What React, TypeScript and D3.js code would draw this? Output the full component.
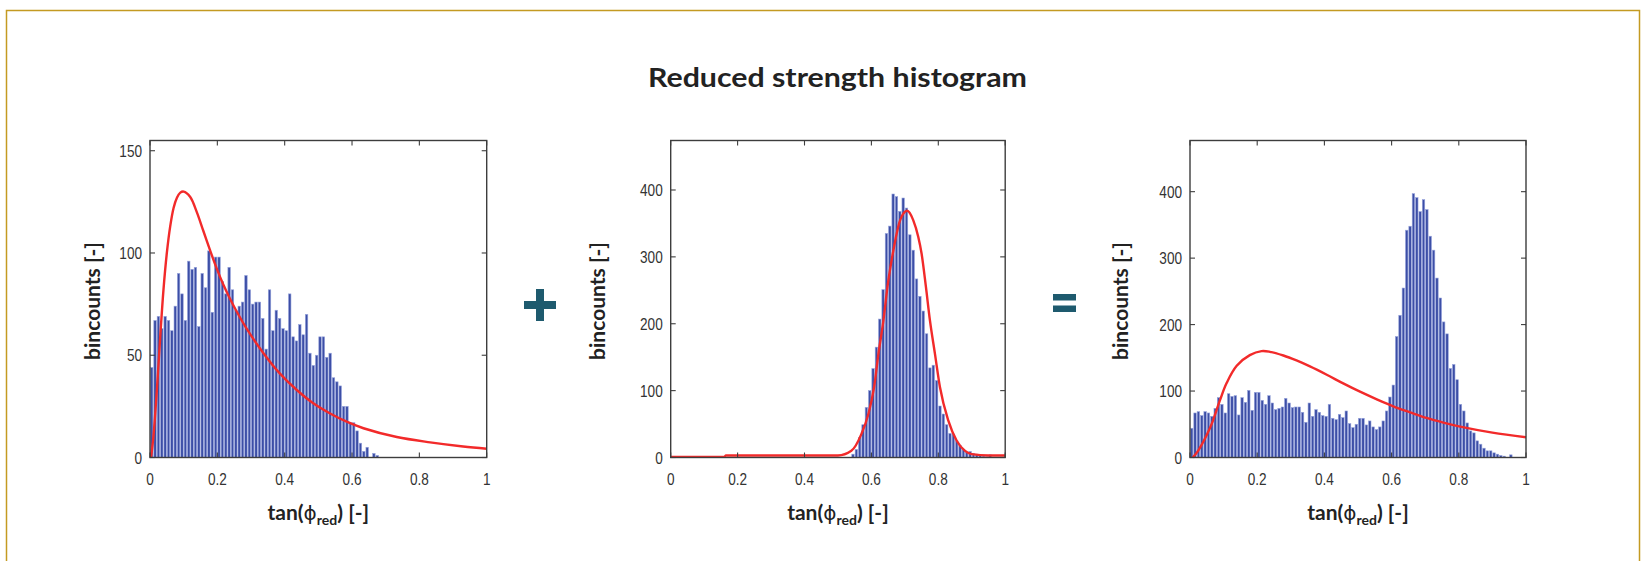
import React from "react";
import * as d3 from "d3";

// ---------------- data ----------------
const TITLE = "Reduced strength histogram";
const Y_LABEL = "bincounts [-]";
const BIN_WIDTH = 0.01;

const X_TICKS = [0, 0.2, 0.4, 0.6, 0.8, 1];
const X_TICK_LABELS = ["0", "0.2", "0.4", "0.6", "0.8", "1"];
const Y_TICKS_LEFT = [0, 50, 100, 150];
const Y_TICKS_MID = [0, 100, 200, 300, 400];
const Y_TICKS_RIGHT = [0, 100, 200, 300, 400];

// panel 1 : bin counts (100 bins of 0.01)
const COUNTS_LEFT = [
  44, 67, 69, 63, 69, 67, 62, 74, 90, 80,
  67, 96, 92, 93, 64, 90, 83, 101, 71, 98,
  98, 86, 80, 93, 82, 72, 74, 76, 89, 82,
  75, 76, 76, 68, 53, 82, 62, 72, 68, 63,
  62, 80, 59, 57, 65, 60, 70, 51, 45, 50,
  59, 59, 49, 51, 39, 37, 35, 25, 25, 17,
  17, 13, 7, 3, 5, 0, 2, 1, 0, 0,
  0, 0, 0, 0, 0, 0, 0, 0, 0, 0,
  0, 0, 0, 0, 0, 0, 0, 0, 0, 0,
  0, 0, 0, 0, 0, 0, 0, 0, 0, 0,
];

// panel 2 : bin counts
const COUNTS_MID = [
  0, 0, 0, 0, 0, 0, 0, 0, 0, 0,
  0, 0, 0, 0, 0, 0, 0, 0, 0, 0,
  0, 0, 0, 0, 0, 0, 0, 0, 0, 0,
  0, 0, 0, 0, 0, 0, 0, 0, 0, 0,
  0, 0, 0, 0, 0, 0, 0, 0, 0, 0,
  0, 0, 0, 0, 5, 12, 30, 49, 75, 100,
  133, 165, 207, 251, 335, 346, 394, 390, 368, 388,
  373, 333, 310, 267, 241, 219, 185, 134, 138, 115,
  77, 65, 49, 36, 35, 25, 18, 12, 8, 9,
  6, 5, 3, 2, 1, 4, 0, 0, 0, 0,
];

// panel 3 : bin counts
const COUNTS_RIGHT = [
  44, 67, 69, 63, 69, 67, 62, 74, 90, 80,
  67, 96, 92, 93, 64, 90, 83, 101, 71, 98,
  98, 86, 80, 93, 82, 72, 74, 76, 89, 82,
  75, 76, 76, 68, 53, 82, 62, 72, 68, 63,
  62, 80, 59, 57, 65, 60, 70, 51, 45, 50,
  59, 59, 49, 55, 46, 42, 46, 55, 70, 91,
  109, 182, 214, 255, 342, 348, 397, 391, 370, 388,
  373, 333, 312, 270, 240, 204, 186, 134, 140, 117,
  80, 70, 52, 40, 37, 25, 20, 14, 10, 10,
  7, 5, 3, 2, 0, 4, 0, 0, 0, 0,
];

// fitted curves, points
const FIT_LEFT_X = [0.003, 0.01, 0.02, 0.03, 0.04, 0.05, 0.06, 0.07, 0.08, 0.09, 0.1, 0.119, 0.139, 0.158, 0.178, 0.198, 0.218, 0.238, 0.257, 0.287, 0.337, 0.386, 0.436, 0.485, 0.535, 0.584, 0.634, 0.733, 0.832, 0.93, 1.0];
const FIT_LEFT_Y = [0, 10, 32, 58, 82, 100, 113, 122, 127, 129.5, 130, 127.5, 120, 111, 101.5, 92.5, 84.5, 77.5, 71.5, 63, 51, 41, 33, 26.5, 21.5, 17.5, 14.3, 10, 7.4, 5.4, 4.3];

const FIT_MID_X = [0, 0.16, 0.165, 0.5, 0.54, 0.57, 0.591, 0.608, 0.621, 0.636, 0.648, 0.664, 0.686, 0.707, 0.725, 0.74, 0.75, 0.763, 0.775, 0.79, 0.805, 0.83, 0.855, 0.88, 0.9, 0.95, 1.0];
const FIT_MID_Y = [1, 1, 3, 3, 10, 35, 65, 105, 155, 205, 255, 305, 355, 369, 355, 330, 305, 255, 205, 155, 105, 55, 25, 10, 5, 3, 3];

const FIT_RIGHT_X = [0.008, 0.024, 0.06, 0.089, 0.109, 0.139, 0.178, 0.213, 0.238, 0.278, 0.317, 0.357, 0.407, 0.456, 0.506, 0.556, 0.605, 0.655, 0.704, 0.754, 0.804, 0.9, 1.0];
const FIT_RIGHT_Y = [0, 10, 45, 86, 112, 138, 154, 160, 159, 153.5, 146, 137, 124.5, 111.5, 99, 87.5, 77, 68, 59.5, 52.5, 46.5, 37.5, 30.5];

// ---------------- layout ----------------
const W = 1647;
const H = 561;
const TOP = 140.5;
const BOTTOM = 457.5;

const PANELS = [
  { left: 150, right: 486.7, yMax: 155, counts: COUNTS_LEFT, fx: FIT_LEFT_X, fy: FIT_LEFT_Y, yTicks: Y_TICKS_LEFT, labelX: 93, smooth: true },
  { left: 670.7, right: 1005.2, yMax: 474, counts: COUNTS_MID, fx: FIT_MID_X, fy: FIT_MID_Y, yTicks: Y_TICKS_MID, labelX: 598, smooth: false },
  { left: 1190, right: 1526, yMax: 477, counts: COUNTS_RIGHT, fx: FIT_RIGHT_X, fy: FIT_RIGHT_Y, yTicks: Y_TICKS_RIGHT, labelX: 1121, smooth: true },
];

const TICK_FONT = "'Liberation Sans', Arial, sans-serif";
const LABEL_FONT = "Lato, 'Open Sans', sans-serif";
const TEXT_COLOR = "#222";
const BAR_FILL = "#3c4ea6";
const BAR_EDGE = "#98a5dc";
const FIT_COLOR = "#f22a2a";
const AXIS_COLOR = "#3d3d3d";
const SIGN_COLOR = "#1e5a6e";
const BORDER_COLOR = "#c49a22";

function TickLabel({ x, y, text, anchor }: { x: number; y: number; text: string; anchor: string }) {
  return (
    <g transform={`translate(${x},${y}) scale(0.8,1)`}>
      <text x={0} y={0} fontFamily={TICK_FONT} fontSize={17} fill="#333" textAnchor={anchor}>
        {text}
      </text>
    </g>
  );
}

function Panel({ p }: { p: any }) {
  const x = d3.scaleLinear().domain([0, 1]).range([p.left, p.right]);
  const y = d3.scaleLinear().domain([0, p.yMax]).range([BOTTOM, TOP]);
  const bw = x(BIN_WIDTH) - x(0);
  const pts: [number, number][] = p.fx.map((v: number, i: number) => [v, p.fy[i]]);
  const line = d3
    .line<[number, number]>()
    .x((d) => x(d[0]))
    .y((d) => y(d[1]))
    .curve(p.smooth ? d3.curveCatmullRom.alpha(0.5) : d3.curveMonotoneX);
  const tl = 5;
  const cx = (p.left + p.right) / 2;
  return (
    <g>
      {p.counts.map((v: number, i: number) =>
        v > 0 ? (
          <rect
            key={i}
            x={x(i * BIN_WIDTH) + 0.45}
            y={y(v)}
            width={bw - 0.9}
            height={y(0) - y(v)}
            fill={BAR_FILL}
            stroke={BAR_EDGE}
            strokeWidth={0.6}
          />
        ) : null
      )}
      <path d={line(pts) || ""} fill="none" stroke={FIT_COLOR} strokeWidth={2.4} strokeLinejoin="round" />
      <rect x={p.left} y={TOP} width={p.right - p.left} height={BOTTOM - TOP} fill="none" stroke={AXIS_COLOR} strokeWidth={1.4} />
      {X_TICKS.map((t, i) => (
        <g key={"xt" + i}>
          <line x1={x(t)} x2={x(t)} y1={BOTTOM} y2={BOTTOM - tl} stroke={AXIS_COLOR} strokeWidth={1.1} />
          <line x1={x(t)} x2={x(t)} y1={TOP} y2={TOP + tl} stroke={AXIS_COLOR} strokeWidth={1.1} />
          <TickLabel x={x(t)} y={485} text={X_TICK_LABELS[i]} anchor="middle" />
        </g>
      ))}
      {p.yTicks.map((t: number, i: number) => (
        <g key={"yt" + i}>
          <line x1={p.left} x2={p.left + tl} y1={y(t)} y2={y(t)} stroke={AXIS_COLOR} strokeWidth={1.1} />
          <line x1={p.right} x2={p.right - tl} y1={y(t)} y2={y(t)} stroke={AXIS_COLOR} strokeWidth={1.1} />
          <TickLabel x={p.left - 8} y={y(t) + 6} text={String(t)} anchor="end" />
        </g>
      ))}
      <text
        transform={`translate(${p.labelX + 7},301) rotate(-90)`}
        textAnchor="middle"
        fontFamily={LABEL_FONT}
        fontWeight={700}
        fontSize={21}
        fill={TEXT_COLOR}
      >
        {Y_LABEL}
      </text>
      <text x={cx} y={520} textAnchor="middle" fontFamily={LABEL_FONT} fontWeight={700} fontSize={21} fill={TEXT_COLOR}>
        <tspan>tan(</tspan>
        <tspan fontWeight={400} fontFamily="'DejaVu Sans', sans-serif" fontSize={20}>ϕ</tspan>
        <tspan fontSize={14} dy={5}>red</tspan>
        <tspan dy={-5}>) [-]</tspan>
      </text>
    </g>
  );
}

export default function App() {
  return (
    <div style={{ position: "absolute", left: 0, top: 0 }}>
      <svg width={W} height={H} viewBox={`0 0 ${W} ${H}`} style={{ display: "block", background: "#fff" }}>
        <rect x={0} y={0} width={W} height={H} fill="#fff" />
        <path d={`M6.5,${H + 2} L6.5,10.5 L1639.5,10.5 L1639.5,${H + 2}`} fill="none" stroke={BORDER_COLOR} strokeWidth={1.5} />
        <text x={837.5} y={87} textAnchor="middle" fontFamily={LABEL_FONT} fontWeight={700} fontSize={26} fill={TEXT_COLOR} textLength={379} lengthAdjust="spacingAndGlyphs">
          {TITLE}
        </text>
        {PANELS.map((p, i) => (
          <Panel key={i} p={p} />
        ))}
        {/* plus sign */}
        <rect x={524} y={301} width={32} height={8} fill={SIGN_COLOR} />
        <rect x={536} y={289} width={8} height={32} fill={SIGN_COLOR} />
        {/* equals sign */}
        <rect x={1053} y={294} width={23} height={6.5} fill={SIGN_COLOR} />
        <rect x={1053} y={305.5} width={23} height={6.5} fill={SIGN_COLOR} />
      </svg>
    </div>
  );
}
